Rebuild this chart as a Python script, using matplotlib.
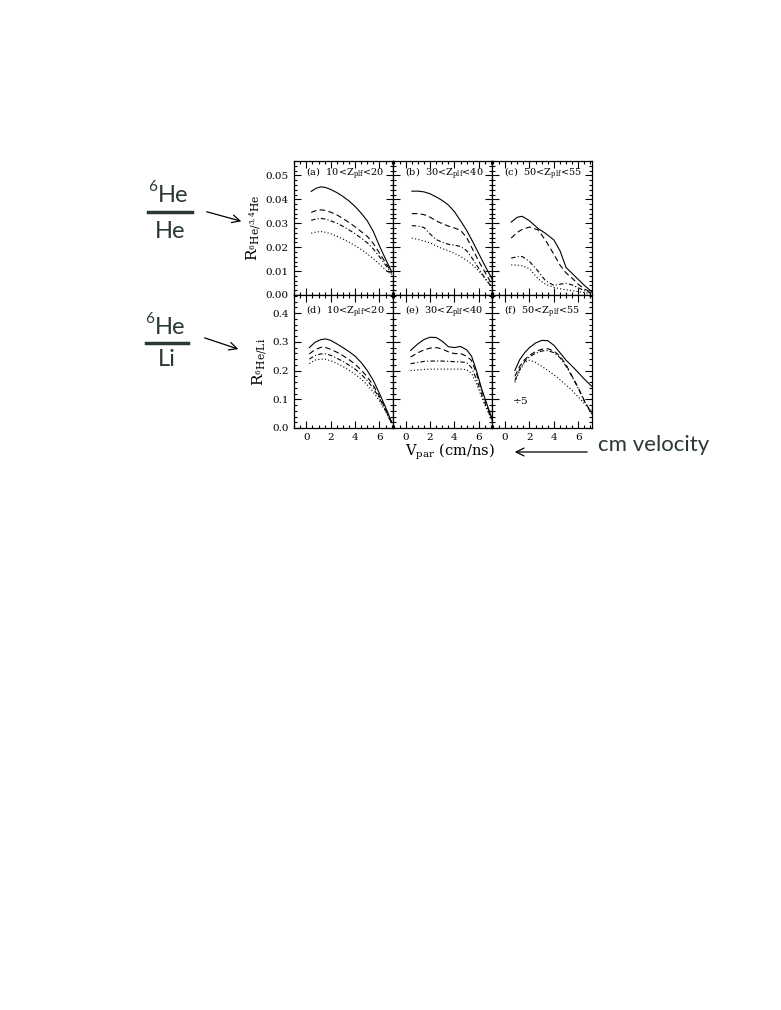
import numpy as np
import matplotlib
matplotlib.use("Agg")
import matplotlib.pyplot as plt
from matplotlib.ticker import MultipleLocator

plt.rcParams['font.family'] = ['DejaVu Serif']
plt.rcParams['mathtext.fontset'] = 'dejavuserif'

# ---- data ----
# top row: 6He / 3,4He ratio
vpar_a = [0.4, 0.8, 1.2, 1.6, 2.0, 2.5, 3.0, 3.5, 4.0, 4.5, 5.0, 5.5, 6.0, 6.5, 7.0]
a_solid = [0.0433, 0.0446, 0.0452, 0.0449, 0.0441, 0.0428, 0.0412, 0.0393, 0.0370, 0.0342, 0.0310, 0.0265, 0.0205, 0.0150, 0.0098]
a_dash = [0.0345, 0.0353, 0.0356, 0.0353, 0.0346, 0.0335, 0.0320, 0.0303, 0.0285, 0.0265, 0.0245, 0.0215, 0.0175, 0.0135, 0.0095]
a_dashdot = [0.0312, 0.0318, 0.0320, 0.0317, 0.0310, 0.0300, 0.0287, 0.0272, 0.0256, 0.0238, 0.0218, 0.0192, 0.0160, 0.0125, 0.0090]
a_dot = [0.0258, 0.0263, 0.0265, 0.0262, 0.0256, 0.0246, 0.0234, 0.0221, 0.0206, 0.0190, 0.0172, 0.0152, 0.0128, 0.0105, 0.0085]

vpar_b = [0.5, 1.0, 1.5, 2.0, 2.5, 3.0, 3.5, 4.0, 4.5, 5.0, 5.5, 6.0, 6.5, 7.1]
b_solid = [0.0434, 0.0434, 0.0431, 0.0423, 0.0410, 0.0395, 0.0376, 0.0348, 0.0310, 0.0270, 0.0222, 0.0172, 0.0122, 0.0065]
b_dash = [0.0340, 0.0340, 0.0336, 0.0325, 0.0310, 0.0298, 0.0288, 0.0280, 0.0270, 0.0240, 0.0190, 0.0140, 0.0095, 0.0042]
b_dashdot = [0.0290, 0.0288, 0.0282, 0.0255, 0.0232, 0.0220, 0.0212, 0.0208, 0.0203, 0.0185, 0.0150, 0.0110, 0.0070, 0.0030]
b_dot = [0.0238, 0.0232, 0.0226, 0.0218, 0.0205, 0.0194, 0.0185, 0.0174, 0.0161, 0.0145, 0.0125, 0.0100, 0.0070, 0.0030]

vpar_c = [0.5, 1.0, 1.4, 2.0, 2.7, 3.3, 4.0, 4.5, 5.0, 5.5, 6.0, 6.5, 7.1]
c_solid = [0.0305, 0.0325, 0.0329, 0.0310, 0.0278, 0.0258, 0.0230, 0.0185, 0.0115, 0.0090, 0.0065, 0.0040, 0.0014]
c_dash = [0.0238, 0.0262, 0.0274, 0.0284, 0.0272, 0.0230, 0.0170, 0.0125, 0.0092, 0.0070, 0.0045, 0.0025, 0.0010]
c_dashdot = [0.0154, 0.0160, 0.0161, 0.0140, 0.0100, 0.0060, 0.0040, 0.0045, 0.0049, 0.0042, 0.0030, 0.0018, 0.0008]
c_dot = [0.0126, 0.0125, 0.0122, 0.0110, 0.0068, 0.0045, 0.0032, 0.0026, 0.0022, 0.0018, 0.0014, 0.0010, 0.0006]

# bottom row: 6He / Li ratio
vpar_d = [0.25, 0.7, 1.2, 1.6, 2.0, 2.5, 3.0, 3.5, 4.0, 4.5, 5.0, 5.5, 6.0, 6.5, 7.0]
d_solid = [0.280, 0.298, 0.308, 0.310, 0.305, 0.293, 0.280, 0.266, 0.250, 0.228, 0.200, 0.165, 0.120, 0.072, 0.020]
d_dash = [0.258, 0.272, 0.281, 0.280, 0.274, 0.264, 0.252, 0.238, 0.222, 0.202, 0.178, 0.148, 0.110, 0.066, 0.018]
d_dashdot = [0.240, 0.252, 0.258, 0.258, 0.253, 0.243, 0.232, 0.219, 0.205, 0.187, 0.165, 0.138, 0.103, 0.062, 0.017]
d_dot = [0.224, 0.236, 0.240, 0.239, 0.234, 0.225, 0.214, 0.201, 0.187, 0.170, 0.150, 0.125, 0.094, 0.057, 0.015]

vpar_e = [0.4, 1.0, 1.5, 2.0, 2.5, 3.0, 3.5, 4.0, 4.5, 5.0, 5.4, 5.8, 6.2, 6.6, 7.1]
e_solid = [0.270, 0.293, 0.308, 0.316, 0.315, 0.302, 0.283, 0.280, 0.284, 0.272, 0.250, 0.200, 0.140, 0.090, 0.030]
e_dash = [0.247, 0.262, 0.272, 0.278, 0.280, 0.275, 0.265, 0.259, 0.259, 0.250, 0.235, 0.190, 0.135, 0.085, 0.028]
e_dashdot = [0.224, 0.228, 0.232, 0.233, 0.233, 0.233, 0.232, 0.231, 0.230, 0.228, 0.210, 0.170, 0.120, 0.075, 0.025]
e_dot = [0.200, 0.202, 0.204, 0.205, 0.205, 0.205, 0.205, 0.205, 0.205, 0.203, 0.190, 0.155, 0.110, 0.070, 0.025]

vpar_f = [0.8, 1.2, 1.6, 2.0, 2.5, 3.0, 3.5, 4.0, 4.5, 5.0, 5.5, 6.0, 6.5, 7.1]
f_solid = [0.200, 0.238, 0.262, 0.280, 0.296, 0.305, 0.304, 0.288, 0.262, 0.236, 0.215, 0.193, 0.170, 0.145]
f_dash = [0.180, 0.215, 0.238, 0.253, 0.266, 0.274, 0.276, 0.268, 0.250, 0.220, 0.180, 0.140, 0.095, 0.050]
f_dashdot = [0.165, 0.205, 0.232, 0.248, 0.260, 0.268, 0.270, 0.262, 0.245, 0.215, 0.178, 0.138, 0.093, 0.048]
f_dot = [0.159, 0.200, 0.228, 0.236, 0.228, 0.215, 0.200, 0.185, 0.168, 0.150, 0.130, 0.108, 0.085, 0.060]

panel_tags = ["(a)", "(b)", "(c)", "(d)", "(e)", "(f)"]
z_ranges = [("10", "20"), ("30", "40"), ("50", "55")]

panels = [
    (vpar_a, a_solid, a_dash, a_dashdot, a_dot),
    (vpar_b, b_solid, b_dash, b_dashdot, b_dot),
    (vpar_c, c_solid, c_dash, c_dashdot, c_dot),
    (vpar_d, d_solid, d_dash, d_dashdot, d_dot),
    (vpar_e, e_solid, e_dash, e_dashdot, e_dot),
    (vpar_f, f_solid, f_dash, f_dashdot, f_dot),
]

styles = ['-', (0, (5, 3)), (0, (4, 2, 1, 2)), (0, (1, 2))]

W, H = 781, 1010
fig = plt.figure(figsize=(W / 100, H / 100), dpi=100)

left_px, pw = 293.5, 99.4
top_px, mid_px, bot_px = 161, 295, 428

axes = []
for i in range(6):
    row, col = divmod(i, 3)
    x0 = left_px + col * pw
    if row == 0:
        y_top, y_bot = top_px, mid_px
    else:
        y_top, y_bot = mid_px, bot_px
    ax = fig.add_axes([x0 / W, 1 - y_bot / H, pw / W, (y_bot - y_top) / H])
    axes.append(ax)

    x, s1, s2, s3, s4 = panels[i]
    for ys, ls in zip([s1, s2, s3, s4], styles):
        ax.plot(x, ys, color='black', lw=0.8, linestyle=ls)

    ax.set_xlim(-1.05, 7.1)
    ax.xaxis.set_major_locator(MultipleLocator(2))
    ax.xaxis.set_minor_locator(MultipleLocator(0.5))
    if row == 0:
        ax.set_ylim(0, 0.056)
        ax.yaxis.set_major_locator(MultipleLocator(0.01))
        ax.yaxis.set_minor_locator(MultipleLocator(0.002))
        ytxt = 0.0505
    else:
        ax.set_ylim(0, 0.463)
        ax.yaxis.set_major_locator(MultipleLocator(0.1))
        ax.yaxis.set_minor_locator(MultipleLocator(0.02))
        ytxt = 0.405

    ax.tick_params(which='both', direction='in', top=True, right=True,
                   labelsize=7.5, width=0.8)
    ax.tick_params(which='major', length=5)
    ax.tick_params(which='minor', length=2.5)
    for sp in ax.spines.values():
        sp.set_linewidth(0.9)

    if row == 0:
        ax.set_xticklabels([])
    if col != 0:
        ax.set_yticklabels([])

    lo, hi = z_ranges[col]
    ax.text(-0.05, ytxt, panel_tags[i] + "  " + lo + r"<Z$_{\mathrm{plf}}$<" + hi,
            fontsize=7, ha='left', va='center')

axes[0].yaxis.set_major_formatter(matplotlib.ticker.FormatStrFormatter('%.2f'))
axes[3].yaxis.set_major_formatter(matplotlib.ticker.FormatStrFormatter('%.1f'))
axes[3].set_xticks([0, 2, 4, 6])

axes[0].set_ylabel(r'$\mathrm{R}_{{}^{6}\mathrm{He}/{}^{3,4}\mathrm{He}}$', fontsize=11, labelpad=2)
axes[3].set_ylabel(r'$\mathrm{R}_{{}^{6}\mathrm{He/Li}}$', fontsize=11, labelpad=2)
axes[5].text(0.55, 0.095, r'$\div$5', fontsize=7.5, ha='left', va='center')

fig.text(450 / W, 1 - 452 / H, r'V$_{\mathrm{par}}$ (cm/ns)', fontsize=10.5,
         ha='center', va='center')

# annotations outside the panels
ann_color = '#2b3838'
ann_font = ['Lato', 'DejaVu Sans']
fig.text(153 / W, 1 - 187 / H, '6', fontsize=11, color=ann_color,
         ha='center', va='center', family=ann_font)
fig.text(173 / W, 1 - 195 / H, 'He', fontsize=17, color=ann_color,
         ha='center', va='center', family=ann_font)
fig.add_artist(plt.Line2D([148 / W, 192 / W], [1 - 212 / H, 1 - 212 / H],
                          color=ann_color, lw=2.5))
fig.text(170 / W, 1 - 231 / H, 'He', fontsize=17, color=ann_color,
         ha='center', va='center', family=ann_font)

fig.text(150 / W, 1 - 319 / H, '6', fontsize=11, color=ann_color,
         ha='center', va='center', family=ann_font)
fig.text(170 / W, 1 - 327 / H, 'He', fontsize=17, color=ann_color,
         ha='center', va='center', family=ann_font)
fig.add_artist(plt.Line2D([146 / W, 188 / W], [1 - 343 / H, 1 - 343 / H],
                          color=ann_color, lw=2.5))
fig.text(167 / W, 1 - 360 / H, 'Li', fontsize=17, color=ann_color,
         ha='center', va='center', family=ann_font)

arrow_kw = dict(arrowstyle='->', color='black', lw=0.9, mutation_scale=14)
fig.add_artist(matplotlib.patches.FancyArrowPatch(
    (204 / W, 1 - 211 / H), (244 / W, 1 - 222 / H),
    transform=fig.transFigure, **arrow_kw))
fig.add_artist(matplotlib.patches.FancyArrowPatch(
    (202 / W, 1 - 337 / H), (241 / W, 1 - 350 / H),
    transform=fig.transFigure, **arrow_kw))
fig.add_artist(matplotlib.patches.FancyArrowPatch(
    (590 / W, 1 - 452 / H), (512 / W, 1 - 452 / H),
    transform=fig.transFigure, **arrow_kw))

fig.text(598 / W, 1 - 445 / H, 'cm velocity', fontsize=16, color=ann_color,
         ha='left', va='center', family=ann_font)

fig.savefig('out.png', dpi=100)
